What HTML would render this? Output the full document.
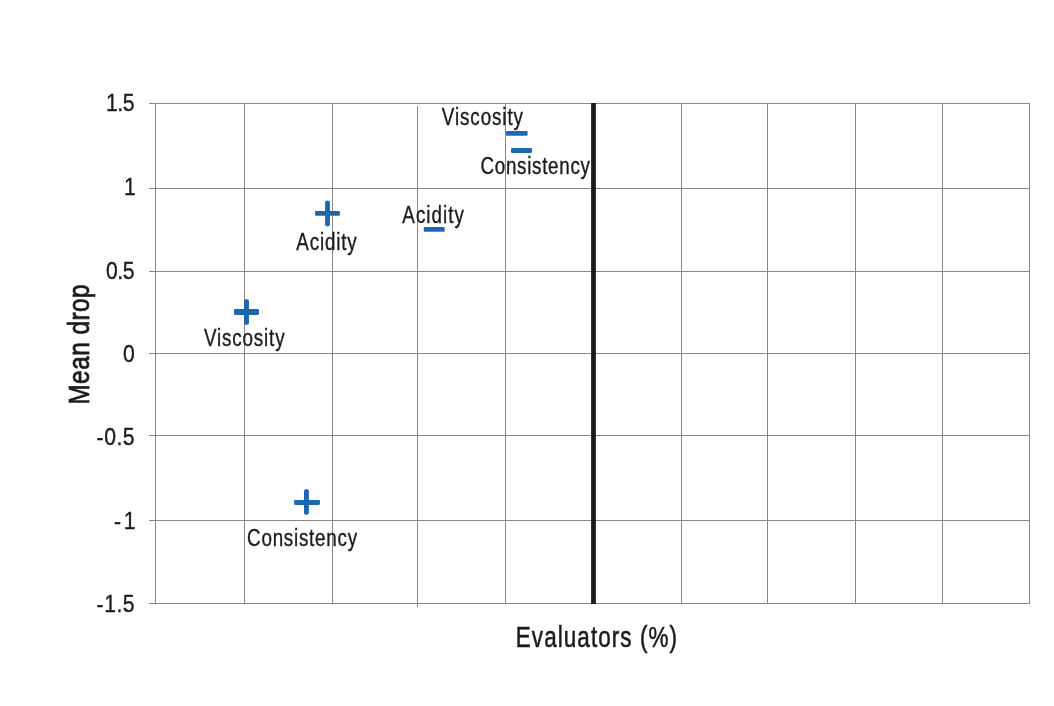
<!DOCTYPE html>
<html lang="en"><head><meta charset="utf-8"><title>Mean drop vs Evaluators (%)</title>
<style>html,body{margin:0;padding:0;background:#fff}svg{display:block}text{font-family:"Liberation Sans",sans-serif;fill:#1c1b19}</style></head><body>
<svg width="1054" height="706" viewBox="0 0 1054 706">
<rect width="1054" height="706" fill="#fff"/>
<g stroke="#868686" stroke-width="1" fill="none" shape-rendering="crispEdges">
<line x1="149" y1="103.5" x2="1030" y2="103.5"/>
<line x1="149" y1="188.5" x2="1030" y2="188.5"/>
<line x1="149" y1="271.5" x2="1030" y2="271.5"/>
<line x1="149" y1="353.5" x2="1030" y2="353.5"/>
<line x1="149" y1="435.5" x2="1030" y2="435.5"/>
<line x1="149" y1="520.5" x2="1030" y2="520.5"/>
<line x1="149" y1="603.5" x2="1030" y2="603.5"/>
<line x1="155.5" y1="103" x2="155.5" y2="604"/>
<line x1="244.5" y1="103" x2="244.5" y2="604"/>
<line x1="332.5" y1="103" x2="332.5" y2="604"/>
<line x1="505.5" y1="103" x2="505.5" y2="604"/>
<line x1="681.5" y1="103" x2="681.5" y2="604"/>
<line x1="767.5" y1="103" x2="767.5" y2="604"/>
<line x1="855.5" y1="103" x2="855.5" y2="604"/>
<line x1="942.5" y1="103" x2="942.5" y2="604"/>
<line x1="1029.5" y1="103" x2="1029.5" y2="604"/>
<line x1="417.5" y1="106" x2="417.5" y2="606.5"/>
</g>
<rect x="591.1" y="103" width="4.8" height="501" fill="#1c1b19"/>
<g fill="#1f66b2">
<rect x="234.05" y="308.95" width="24.90" height="6.00" rx="1.1"/>
<path d="M244.05 300.45L244.85 299.65L246.50 298.95L248.15 299.65L248.95 300.45V323.45L248.15 324.25L246.50 324.95L244.85 324.25L244.05 323.45Z"/>
<rect x="315.05" y="210.95" width="24.90" height="4.90" rx="1.1"/>
<path d="M325.05 201.90L325.85 201.10L327.50 200.40L329.15 201.10L329.95 201.90V224.90L329.15 225.70L327.50 226.40L325.85 225.70L325.05 224.90Z"/>
<rect x="294.10" y="500.00" width="25.85" height="4.90" rx="1.1"/>
<path d="M304.00 490.45L304.80 489.65L306.45 488.95L308.10 489.65L308.90 490.45V513.45L308.10 514.25L306.45 514.95L304.80 514.25L304.00 513.45Z"/>
<rect x="506.00" y="130.95" width="21.60" height="4.90" rx="1.2"/>
<rect x="511.00" y="148.05" width="21.00" height="4.90" rx="1.2"/>
<rect x="423.80" y="226.95" width="20.90" height="4.90" rx="1.2"/>
</g>
<text transform="translate(106.0 111.4) scale(0.9 1)" font-size="23.5" textLength="31.8" lengthAdjust="spacing" stroke="#1c1b19" stroke-width="0.35">1.5</text>
<text transform="translate(124.0 194.6) scale(0.9 1)" font-size="23.5" textLength="13.1" lengthAdjust="spacing" stroke="#1c1b19" stroke-width="0.35">1</text>
<text transform="translate(106.0 278.8) scale(0.9 1)" font-size="23.5" textLength="31.8" lengthAdjust="spacing" stroke="#1c1b19" stroke-width="0.35">0.5</text>
<text transform="translate(123.1 361.8) scale(0.9 1)" font-size="23.5" textLength="13.1" lengthAdjust="spacing" stroke="#1c1b19" stroke-width="0.35">0</text>
<text transform="translate(96.6 444.6) scale(0.9 1)" font-size="23.5" textLength="42.2" lengthAdjust="spacing" stroke="#1c1b19" stroke-width="0.35">-0.5</text>
<text transform="translate(114.1 528.5) scale(0.9 1)" font-size="23.5" textLength="23.7" lengthAdjust="spacing" stroke="#1c1b19" stroke-width="0.35">-1</text>
<text transform="translate(96.6 611.8) scale(0.9 1)" font-size="23.5" textLength="42.2" lengthAdjust="spacing" stroke="#1c1b19" stroke-width="0.35">-1.5</text>
<text transform="translate(204.0 345.9) scale(0.8 1)" font-size="23.5" textLength="100.7" lengthAdjust="spacing" stroke="#1c1b19" stroke-width="0.35">Viscosity</text>
<text transform="translate(296.3 250.0) scale(0.8 1)" font-size="23.5" textLength="75.6" lengthAdjust="spacing" stroke="#1c1b19" stroke-width="0.35">Acidity</text>
<text transform="translate(247.1 545.5) scale(0.8 1)" font-size="23.5" textLength="137.5" lengthAdjust="spacing" stroke="#1c1b19" stroke-width="0.35">Consistency</text>
<text transform="translate(402.3 222.5) scale(0.8 1)" font-size="23.5" textLength="77.1" lengthAdjust="spacing" stroke="#1c1b19" stroke-width="0.35">Acidity</text>
<text transform="translate(441.8 124.8) scale(0.8 1)" font-size="23.5" textLength="101.5" lengthAdjust="spacing" stroke="#1c1b19" stroke-width="0.35">Viscosity</text>
<text transform="translate(480.5 173.9) scale(0.8 1)" font-size="23.5" textLength="136.8" lengthAdjust="spacing" stroke="#1c1b19" stroke-width="0.35">Consistency</text>
<text transform="translate(515.8 647.4) scale(0.76 1)" font-size="29.6" textLength="212.1" lengthAdjust="spacing" stroke="#1c1b19" stroke-width="0.55">Evaluators (%)</text>
<text transform="translate(88.9 404.6) rotate(-90) scale(0.82 1)" font-size="29.6" textLength="146.6" lengthAdjust="spacing" stroke="#1c1b19" stroke-width="0.8">Mean drop</text>
</svg>
</body></html>
